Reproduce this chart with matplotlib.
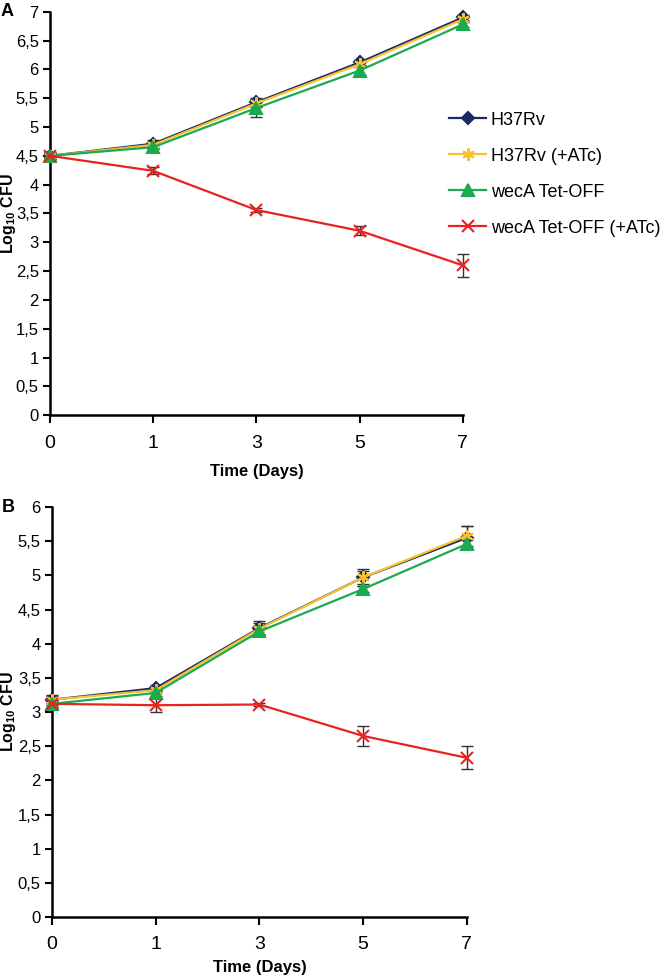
import numpy as np
import matplotlib
matplotlib.use('Agg')
import matplotlib.pyplot as plt
from matplotlib.ticker import FuncFormatter

plt.rcParams['font.family'] = ['Liberation Sans', 'DejaVu Sans']
plt.rcParams['mathtext.fontset'] = 'custom'
plt.rcParams['mathtext.rm'] = 'Liberation Sans'
plt.rcParams['mathtext.bf'] = 'Liberation Sans:bold'

days = ['0', '1', '3', '5', '7']
labels = ['H37Rv', 'H37Rv (+ATc)', 'wecA Tet-OFF', 'wecA Tet-OFF (+ATc)']

# panel A
a_h37 = [4.50, 4.71, 5.43, 6.12, 6.90]
a_h37_atc = [4.50, 4.69, 5.41, 6.09, 6.87]
a_weca = [4.50, 4.65, 5.33, 5.98, 6.78]
a_weca_atc = [4.50, 4.24, 3.56, 3.20, 2.60]
a_err_h37 = [0.06, 0.07, 0.08, 0.05, 0.05]
a_err_h37_atc = [0.05, 0.05, 0.06, 0.05, 0.05]
a_err_weca = [0.05, 0.04, 0.16, 0.07, 0.05]
a_err_weca_atc = [0.05, 0.06, 0.03, 0.08, 0.20]

# panel B
b_h37 = [3.18, 3.35, 4.23, 4.97, 5.55]
b_h37_atc = [3.18, 3.32, 4.22, 4.97, 5.58]
b_weca = [3.12, 3.28, 4.18, 4.80, 5.46]
b_weca_atc = [3.12, 3.10, 3.11, 2.65, 2.33]
b_err_h37 = [0.07, 0.04, 0.10, 0.12, 0.17]
b_err_h37_atc = [0.05, 0.04, 0.08, 0.10, 0.15]
b_err_weca = [0.05, 0.04, 0.06, 0.05, 0.06]
b_err_weca_atc = [0.05, 0.10, 0.02, 0.14, 0.17]

colors = ['#1b2a63', '#f7c12f', '#1aaa50', '#e8221e']
markers = ['D', (6, 2, 0), '^', 'x']
msizes = [6, 9, 8, 8]

fig = plt.figure(figsize=(6.66, 9.77), dpi=100)
axA = fig.add_axes([0.075, 0.575, 0.62, 0.413])
axB = fig.add_axes([0.078, 0.0614, 0.623, 0.4196])

comma = FuncFormatter(lambda v, p: ('%g' % v).replace('.', ','))


def panel(ax, series, errs, ymax, letter, xpad):
    x = np.arange(len(days))
    for y, e in zip(series, errs):
        ax.errorbar(x, y, yerr=e, fmt='none', ecolor='#333333', elinewidth=1,
                    capsize=4, capthick=1, clip_on=False, zorder=2)
    for i, y in enumerate(series):
        ax.plot(x, y, color=colors[i], marker=markers[i], markersize=msizes[i],
                lw=1.6, mew=1.5, label=labels[i], clip_on=False, zorder=3)
    ax.set_xlim(0, len(days) - 1)
    ax.set_ylim(0, ymax)
    ax.set_xticks(x)
    ax.set_xticklabels(days)
    ax.set_yticks(np.arange(0, ymax + 0.01, 0.5))
    ax.yaxis.set_major_formatter(comma)
    for s in ['top', 'right']:
        ax.spines[s].set_visible(False)
    for s in ['left', 'bottom']:
        ax.spines[s].set_linewidth(1.8)
    ax.tick_params(axis='y', direction='out', length=5, width=1.5, pad=3,
                   labelsize=12)
    ax.tick_params(axis='x', direction='out', length=6, width=1.5, pad=8,
                   labelsize=14)
    ax.set_xlabel('Time (Days)', fontsize=12, fontweight='bold', labelpad=xpad)
    ax.set_ylabel(r'$\mathbf{Log_{10}}$ CFU', fontsize=11.5, fontweight='bold')
    # label's right edge about 18 px from the figure edge
    pos = ax.get_position()
    lab_x = -(pos.x0 * fig.bbox.width - 18) / (pos.width * fig.bbox.width)
    ax.yaxis.set_label_coords(lab_x, 0.5)
    ax.text(-0.12, 1.0, letter, transform=ax.transAxes, fontsize=13,
            fontweight='bold', va='center', ha='left')


panel(axA, [a_h37, a_h37_atc, a_weca, a_weca_atc],
      [a_err_h37, a_err_h37_atc, a_err_weca, a_err_weca_atc], 7, 'A', 9)
panel(axB, [b_h37, b_h37_atc, b_weca, b_weca_atc],
      [b_err_h37, b_err_h37_atc, b_err_weca, b_err_weca_atc], 6, 'B', 5)

axA.legend(loc='upper left', bbox_to_anchor=(0.95, 0.77), frameon=False,
           fontsize=13, handlelength=2.0, labelspacing=1.05, handletextpad=0.3,
           borderaxespad=0)

fig.savefig('out.png', dpi=100)
